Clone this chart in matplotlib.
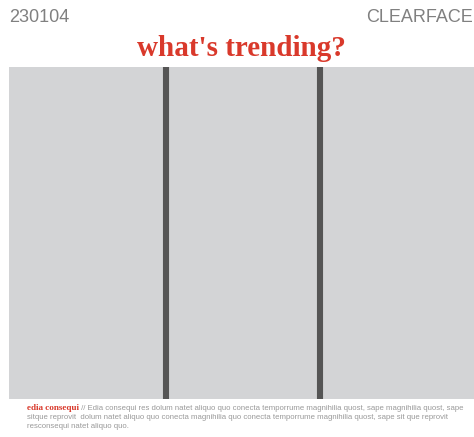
import matplotlib
matplotlib.use('Agg')
import matplotlib.pyplot as plt

# three panels, all empty (same grey block)
panels = ['a', 'b', 'c']
values = [1, 1, 1]

date_label = '230104'
brand_label = 'CLEARFACE'
title = "what's trending?"
note_head = 'edia consequi'
note_lines = [
    ' // Edia consequi res dolum natet aliquo quo conecta temporrume magnihilia quost, sape magnihilia quost, sape',
    'sitque reprovit  dolum natet aliquo quo conecta magnihilia quo conecta temporrume magnihilia quost, sape sit que reprovit',
    'resconsequi natet aliquo quo.',
]

red = '#d9392b'
grey_bg = '#d3d4d6'
dark = '#555555'

fig = plt.figure(figsize=(4.74, 4.37), dpi=100)
ax = fig.add_axes([9/474, 38/437, 465/474, 332/437])
ax.set_facecolor(grey_bg)

xs = range(len(panels))
ax.bar(xs, values, width=1.0, color=grey_bg, linewidth=0)
for i in range(1, len(panels)):
    ax.axvline(i - 0.5, color=dark, lw=4.4)
ax.set_xlim(-0.52, len(panels) - 0.5)
ax.set_ylim(0, 1)
ax.set_xticks([])
ax.set_yticks([])
for s in ax.spines.values():
    s.set_visible(False)

fig.text(9/474, 1 - 18/437, date_label, ha='left', va='center',
         fontsize=13, color='#808080', family='Liberation Sans')
fig.text(473/474, 1 - 18/437, brand_label, ha='right', va='center',
         fontsize=13, color='#808080', family='Liberation Sans')
fig.text(241/474, 1 - 48/437, title, ha='center', va='center',
         fontsize=21, color=red, fontweight='bold', family='Liberation Serif')

head = fig.text(27/474, 1 - 408/437, note_head, ha='left', va='center',
                fontsize=6.6, color=red, fontweight='bold', family='Liberation Serif')
fig.canvas.draw()
plt.annotate(note_lines[0], xy=(1, 0.5), xycoords=head, ha='left', va='center',
             fontsize=5.6, color='#999999', family='Liberation Sans')
for k, line in enumerate(note_lines[1:]):
    fig.text(27/474, 1 - (417.5 + 9*k)/437, line, ha='left', va='center',
             fontsize=5.6, color='#999999', family='Liberation Sans')

fig.savefig('out.png', dpi=100)
